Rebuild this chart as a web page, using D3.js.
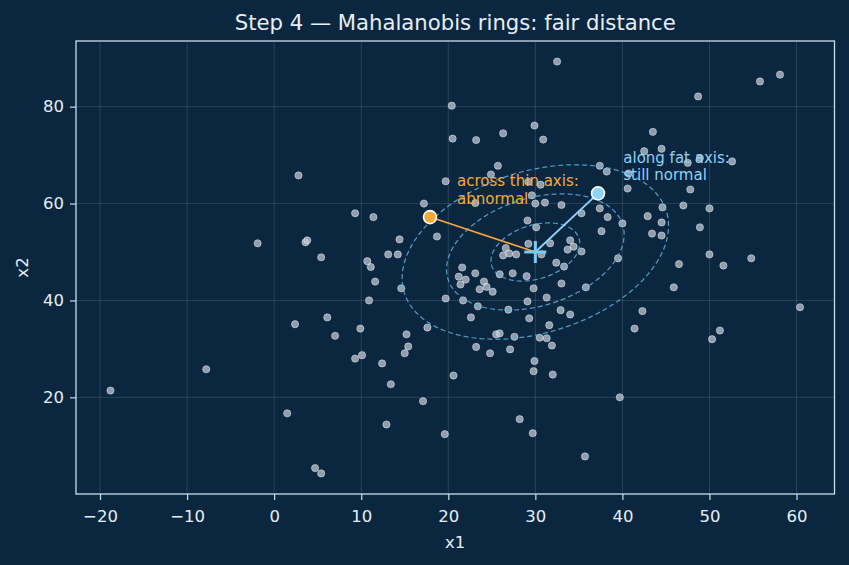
<!DOCTYPE html>
<html>
<head>
<meta charset="utf-8">
<script src="https://cdn.jsdelivr.net/npm/d3@7"></script>
<style>
  body { margin: 0; background: #0b2740; }
  svg { display: block; font-family: "DejaVu Sans", sans-serif; }
</style>
</head>
<body>
<div id="chart"></div>
<script>
/**
 * CONSTANTS AND DATA
 * */
const width = 849,
  height = 565,
  margin = { top: 41, right: 14.5, bottom: 71, left: 76 };

// scatter cloud (x1, x2 pairs)
const x1 = [
  32.5, 20.4, 20.5, 23.2, 26.3, 29.9, 30.9, 25.7, 24.9, 19.7,
  17.2, 18.7, 23.1, 29.2, 30.6, 29.6, 30.0, 31.1, 33.0, 35.3,
  29.1, 30.1, 9.3, 11.4, 14.4, 13.1, 14.2, 10.7, 11.1, 21.6,
  55.8, 58.1, 48.7, 43.5, 42.5, 44.5, 47.5, 48.9, 52.6, 37.4,
  38.2, 40.7, 40.6, 47.8, 47.0, 50.0, 37.4, 38.3, 40.0, 42.9,
  44.6, 44.5, 43.4, 44.5, 48.9, 37.6, 35.3, 39.5, 46.5, 50.0,
  51.6, 54.8, 34.0, 34.4, 33.7, 31.7, 29.2, 30.7, 26.6, 26.3,
  27.0, 27.8, 32.4, 33.3, 21.2, 22.0, 21.4, 23.1, 24.1, 24.4,
  23.6, 25.1, 25.9, 27.4, 29.0, 29.8, 19.7, 21.7, 23.4, 22.6,
  26.9, 29.1, 29.3, 17.6, 14.6, 15.2, 15.4, 15.0, 25.5, 25.9,
  27.6, 23.2, 24.8, 27.1, 33.0, 35.8, 31.3, 32.9, 34.0, 31.6,
  30.5, 31.3, 31.9, 42.3, 41.4, 11.6, 10.9, 9.9, 9.3, 10.1,
  12.4, 13.4, 17.1, 12.9, 20.6, 19.6, 29.9, 29.8, 32.0, 28.2,
  29.7, 35.7, 45.9, 60.4, 51.2, 50.3, 39.7, 2.8, -1.9, 3.6,
  3.8, 5.4, 6.1, 2.4, 7.0, -7.8, -18.8, 1.5, 4.7, 5.4
];
const x2 = [
  89.3, 80.2, 73.4, 73.1, 74.5, 76.1, 73.2, 67.8, 66.0, 64.6,
  60.0, 53.2, 60.1, 64.5, 63.9, 61.7, 60.0, 60.2, 59.7, 58.0,
  56.5, 55.1, 58.0, 57.2, 52.6, 49.5, 49.5, 48.1, 46.9, 46.8,
  85.2, 86.6, 82.1, 74.8, 70.8, 71.3, 68.4, 69.4, 68.7, 67.8,
  66.6, 66.2, 63.1, 62.9, 59.6, 59.0, 59.0, 57.2, 55.9, 57.4,
  59.2, 56.1, 53.8, 53.4, 55.1, 54.3, 50.1, 48.7, 47.5, 49.5,
  47.2, 48.7, 52.4, 51.1, 50.5, 51.8, 51.7, 49.5, 50.8, 49.3,
  49.7, 49.5, 47.8, 47.0, 44.9, 44.3, 43.3, 45.6, 43.9, 42.8,
  42.3, 41.8, 45.4, 45.6, 45.0, 42.5, 40.4, 40.0, 38.8, 36.5,
  38.1, 39.8, 36.3, 34.4, 42.5, 33.0, 30.5, 29.1, 33.0, 33.2,
  32.5, 30.4, 29.1, 29.9, 43.5, 42.7, 40.6, 38.0, 37.1, 34.9,
  32.3, 32.2, 30.7, 37.8, 34.2, 43.9, 40.0, 34.2, 28.0, 28.7,
  27.0, 22.7, 19.2, 14.4, 24.5, 12.4, 27.5, 25.4, 24.7, 15.5,
  12.6, 7.8, 42.7, 38.6, 33.8, 32.0, 20.0, 65.8, 51.8, 52.0,
  52.4, 48.9, 36.5, 35.1, 32.7, 25.8, 21.4, 16.7, 5.4, 4.3
];

// centre of the cloud and the two probe points
const centre = [30, 50];
const probeX1 = [17.9, 37.2];
const probeX2 = [57.2, 62.1];
const probeColors = ["#f5a93c", "#8dd2f8"];
const probeLabels = [["across thin axis:", "abnormal"], ["along fat axis:", "still normal"]];
const labelX1 = [21.0, 40.1];
const labelX2 = [64.8, 69.6];

// covariance behind the rings
const sd1 = 5.1, sd2 = 6.0, rho = 0.3;
const ringLevels = [1, 2, 3];

const xTicks = [-20, -10, 0, 10, 20, 30, 40, 50, 60];
const yTicks = [20, 40, 60, 80];

const bg = "#0b2740",
  fg = "#e6eef5",
  spine = "#c9deec",
  tickFont = "16.5px";

/**
 * SCALES
 * */
function padded(vals) {
  const [lo, hi] = d3.extent(vals);
  const p = (hi - lo) * 0.05;
  return [lo - p, hi + p];
}

const xScale = d3.scaleLinear()
  .domain(padded(x1))
  .range([margin.left, width - margin.right]);

const yScale = d3.scaleLinear()
  .domain(padded(x2))
  .range([height - margin.bottom, margin.top]);

const svg = d3.select("#chart")
  .append("svg")
  .attr("width", width)
  .attr("height", height)
  .style("background", bg);

// grid
svg.append("g")
  .selectAll("line")
  .data(xTicks)
  .join("line")
  .attr("x1", d => xScale(d)).attr("x2", d => xScale(d))
  .attr("y1", margin.top).attr("y2", height - margin.bottom)
  .attr("stroke", "#ffffff").attr("stroke-opacity", 0.16).attr("stroke-width", 0.8);

svg.append("g")
  .selectAll("line")
  .data(yTicks)
  .join("line")
  .attr("y1", d => yScale(d)).attr("y2", d => yScale(d))
  .attr("x1", margin.left).attr("x2", width - margin.right)
  .attr("stroke", "#ffffff").attr("stroke-opacity", 0.16).attr("stroke-width", 0.8);

// axes
const xAxis = d3.axisBottom(xScale).tickValues(xTicks).tickSize(6).tickPadding(10)
  .tickFormat(d => d < 0 ? "\u2212" + Math.abs(d) : d);
const yAxis = d3.axisLeft(yScale).tickValues(yTicks).tickSize(6).tickPadding(6);

const gx = svg.append("g")
  .attr("transform", `translate(0,${height - margin.bottom})`)
  .call(xAxis);
const gy = svg.append("g")
  .attr("transform", `translate(${margin.left},0)`)
  .call(yAxis);

[gx, gy].forEach(g => {
  g.select(".domain").remove();
  g.selectAll(".tick line").attr("stroke", spine).attr("stroke-width", 1.2);
  g.selectAll(".tick text")
    .attr("fill", fg)
    .style("font-size", tickFont)
    .style("font-family", "DejaVu Sans, sans-serif");
});

// frame
svg.append("rect")
  .attr("x", margin.left)
  .attr("y", margin.top)
  .attr("width", width - margin.right - margin.left)
  .attr("height", height - margin.bottom - margin.top)
  .attr("fill", "none")
  .attr("stroke", spine)
  .attr("stroke-width", 1.3);

// scatter
svg.append("g")
  .selectAll("circle")
  .data(x1.map((d, i) => [d, x2[i]]))
  .join("circle")
  .attr("cx", d => xScale(d[0]))
  .attr("cy", d => yScale(d[1]))
  .attr("r", 3.6)
  .attr("fill", "#c3ccd6")
  .attr("fill-opacity", 0.72)
  .attr("stroke", "#eef3f8")
  .attr("stroke-opacity", 0.55)
  .attr("stroke-width", 0.9);

// Mahalanobis rings
const ts = d3.range(0, 2 * Math.PI, Math.PI / 90);
const ring = d3.line()
  .x(d => xScale(d[0]))
  .y(d => yScale(d[1]))
  .curve(d3.curveLinearClosed);

svg.append("g")
  .selectAll("path")
  .data(ringLevels)
  .join("path")
  .attr("d", k => ring(ts.map(t => [
    centre[0] + k * sd1 * Math.cos(t),
    centre[1] + k * (rho * sd2 * Math.cos(t) + sd2 * Math.sqrt(1 - rho * rho) * Math.sin(t))
  ])))
  .attr("fill", "none")
  .attr("stroke", "#5cb3e0")
  .attr("stroke-opacity", 0.85)
  .attr("stroke-width", 1.2)
  .attr("stroke-dasharray", "5,3");

// lines from centre to the probes
svg.append("g")
  .selectAll("line")
  .data(probeX1)
  .join("line")
  .attr("x1", xScale(centre[0]))
  .attr("y1", yScale(centre[1]))
  .attr("x2", d => xScale(d))
  .attr("y2", (d, i) => yScale(probeX2[i]))
  .attr("stroke", (d, i) => probeColors[i])
  .attr("stroke-width", (d, i) => i === 0 ? 1.6 : 1.9);

// centre marker
const cx = xScale(centre[0]), cy = yScale(centre[1]);
svg.append("path")
  .attr("d", `M${cx - 11},${cy}H${cx + 11}M${cx},${cy - 11}V${cy + 11}`)
  .attr("stroke", "#7ccaf2")
  .attr("stroke-width", 3);

// probe points
svg.append("g")
  .selectAll("circle")
  .data(probeX1)
  .join("circle")
  .attr("cx", d => xScale(d))
  .attr("cy", (d, i) => yScale(probeX2[i]))
  .attr("r", 6.5)
  .attr("fill", (d, i) => probeColors[i])
  .attr("stroke", "#ffffff")
  .attr("stroke-width", 1.6);

// labels
probeLabels.forEach((lines, i) => {
  const t = svg.append("text")
    .attr("x", xScale(labelX1[i]))
    .attr("y", yScale(labelX2[i]))
    .attr("fill", probeColors[i])
    .style("font-size", "15px");
  lines.forEach((s, j) => {
    t.append("tspan")
      .attr("x", xScale(labelX1[i]))
      .attr("dy", j === 0 ? "0.38em" : "17.7px")
      .text(s);
  });
});

// title and axis labels
svg.append("text")
  .attr("x", (margin.left + width - margin.right) / 2)
  .attr("y", 30)
  .attr("text-anchor", "middle")
  .attr("fill", fg)
  .style("font-size", "21.2px")
  .text("Step 4 \u2014 Mahalanobis rings: fair distance");

svg.append("text")
  .attr("x", (margin.left + width - margin.right) / 2)
  .attr("y", 548)
  .attr("text-anchor", "middle")
  .attr("fill", fg)
  .style("font-size", tickFont)
  .text("x1");

svg.append("text")
  .attr("transform", `translate(28,${(margin.top + height - margin.bottom) / 2}) rotate(-90)`)
  .attr("text-anchor", "middle")
  .attr("fill", fg)
  .style("font-size", tickFont)
  .text("x2");
</script>
</body>
</html>
